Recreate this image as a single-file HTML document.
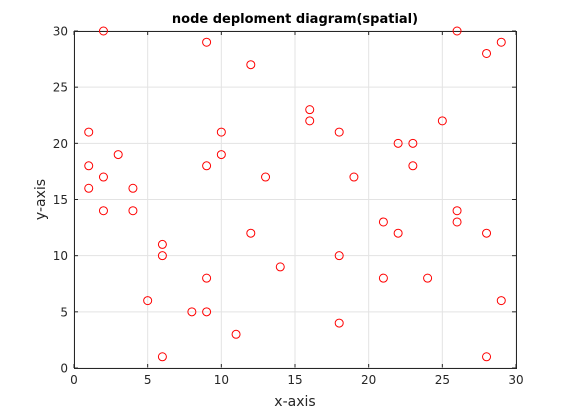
<!DOCTYPE html>
<html><head><meta charset="utf-8"><style>
body{margin:0;background:#fff;}
svg{display:block;font-family:"DejaVu Sans","Liberation Sans",sans-serif;}
</style></head><body>
<svg id="chart" width="570" height="413" viewBox="0 0 570 413"></svg>
<script>
const xTicks=[0,5,10,15,20,25,30];
const yTicks=[0,5,10,15,20,25,30];
const xs=[2,9,12,26,28,29,1,1,1,2,2,3,4,4,6,6,5,6,8,9,9,11,9,10,10,13,12,14,16,16,18,19,18,18,21,21,22,22,23,23,24,25,26,26,28,28,29];
const ys=[30,29,27,30,28,29,21,18,16,17,14,19,16,14,11,10,6,1,5,5,8,3,18,21,19,17,12,9,23,22,21,17,10,4,13,8,12,20,20,18,8,22,14,13,12,1,6];
const L=74,R=516,T=31,B=368;
const sx=v=>L+(v-0)/30*(R-L);
const sy=v=>B-(v-0)/30*(B-T);
const svg=document.getElementById('chart');
const NS='http://www.w3.org/2000/svg';
function mk(t,a,p){const e=document.createElementNS(NS,t);for(const k in a)e.setAttribute(k,a[k]);(p||svg).appendChild(e);return e;}
const bg=mk('rect',{x:L,y:T,width:R-L,height:B-T,fill:'#fff'});


xTicks.forEach(t=>{
  const x=sx(t);
  const g=mk('line',{x1:x,x2:x,y1:T,y2:B,stroke:'#e3e3e3','stroke-width':1});
  
  
  mk('line',{x1:x,x2:x,y1:B,y2:B-4,stroke:'#262626'});
  mk('line',{x1:x,x2:x,y1:T,y2:T+4,stroke:'#262626'});
  const tx=mk('text',{x:x,y:B+16,'text-anchor':'middle','font-size':12,fill:'#262626'});
  tx.textContent=t;
  
  
});
yTicks.forEach(t=>{
  const y=sy(t);
  const g=mk('line',{x1:L,x2:R,y1:y,y2:y,stroke:'#e3e3e3','stroke-width':1});
  
  
  mk('line',{x1:L,x2:L+4,y1:y,y2:y,stroke:'#262626'});
  mk('line',{x1:R,x2:R-4,y1:y,y2:y,stroke:'#262626'});
  const tx=mk('text',{x:L-6,y:y+4.5,'text-anchor':'end','font-size':12,fill:'#262626'});
  tx.textContent=t;
  
  
});
const box=mk('rect',{x:L+0.5,y:T+0.5,width:R-L,height:B-T,fill:'none',stroke:'#262626','stroke-width':1});


xs.forEach((v,i)=>{
  const c=mk('circle',{cx:sx(v),cy:sy(ys[i]),r:4,fill:'none',stroke:'#ff0000','stroke-width':1});
  
  
});
const title=mk('text',{x:(L+R)/2,y:23,'text-anchor':'middle','font-size':13,'font-weight':'bold',fill:'#000'});
title.textContent='node deploment diagram(spatial)';


const xl=mk('text',{x:(L+R)/2,y:406,'text-anchor':'middle','font-size':14,fill:'#262626'});
xl.textContent='x-axis';


const yl=mk('text',{x:0,y:0,'text-anchor':'middle','font-size':14,fill:'#262626',transform:'translate(45,'+((T+B)/2)+') rotate(-90)'});
yl.textContent='y-axis';


</script>
</body></html>
